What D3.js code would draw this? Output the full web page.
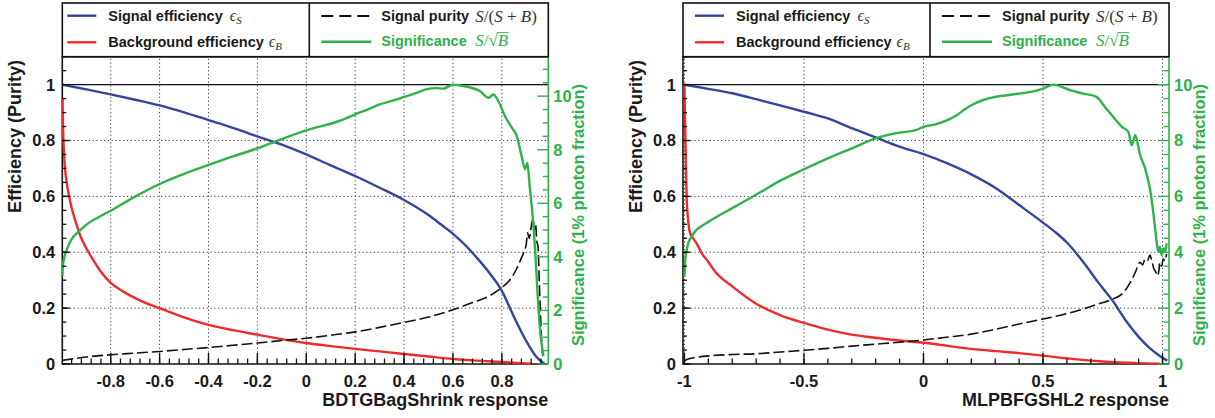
<!DOCTYPE html>
<html>
<head>
<meta charset="utf-8">
<script src="https://cdn.jsdelivr.net/npm/d3@7"></script>
<style>
  html, body { margin: 0; padding: 0; background: #fff; }
  svg { display: block; }
  text { font-family: "Liberation Sans", Arial, Helvetica, sans-serif; }
  .math { font-family: "Liberation Serif", "DejaVu Serif", serif; font-style: italic; font-weight: normal; }
</style>
</head>
<body>
<svg id="chart" width="1215" height="418"></svg>
<script>
// ---------- BDTGBagShrink: efficiencies vs. cut value ----------
const bdtEffSigX = [-0.998, -0.9, -0.8, -0.7, -0.6, -0.5, -0.4, -0.3, -0.2, -0.1, 0, 0.1, 0.2, 0.3, 0.4, 0.5, 0.55, 0.6, 0.65, 0.7, 0.75, 0.8, 0.85, 0.9, 0.94, 0.975];
const bdtEffSigY = [1.0, 0.983, 0.965, 0.946, 0.926, 0.901, 0.873, 0.845, 0.815, 0.785, 0.75, 0.711, 0.673, 0.631, 0.587, 0.533, 0.50, 0.466, 0.426, 0.378, 0.325, 0.262, 0.168, 0.082, 0.027, 0.0];

const bdtEffBkgX = [-0.997, -0.995, -0.99, -0.98, -0.97, -0.96, -0.94, -0.92, -0.9, -0.87, -0.84, -0.8, -0.75, -0.7, -0.65, -0.6, -0.5, -0.4, -0.3, -0.2, -0.1, 0, 0.1, 0.2, 0.3, 0.4, 0.5, 0.6, 0.7, 0.8, 0.86, 0.918];
const bdtEffBkgY = [0.95, 0.85, 0.74, 0.65, 0.6, 0.56, 0.5, 0.45, 0.415, 0.37, 0.33, 0.29, 0.26, 0.236, 0.216, 0.20, 0.167, 0.14, 0.121, 0.105, 0.089, 0.075, 0.064, 0.054, 0.045, 0.036, 0.027, 0.018, 0.012, 0.007, 0.004, 0.001];

const bdtPurityX = [-0.998, -0.9, -0.8, -0.7, -0.6, -0.5, -0.4, -0.3, -0.2, -0.1, 0, 0.1, 0.2, 0.3, 0.4, 0.5, 0.6, 0.68, 0.75, 0.8, 0.83, 0.86, 0.88, 0.9, 0.905, 0.912, 0.92, 0.928, 0.933, 0.938, 0.943, 0.948, 0.953, 0.958, 0.963, 0.968];
const bdtPurityY = [0.013, 0.025, 0.033, 0.039, 0.045, 0.052, 0.059, 0.067, 0.075, 0.084, 0.092, 0.103, 0.115, 0.131, 0.149, 0.168, 0.194, 0.22, 0.244, 0.274, 0.298, 0.34, 0.38, 0.43, 0.47, 0.45, 0.49, 0.52, 0.48, 0.50, 0.44, 0.42, 0.30, 0.18, 0.08, 0.02];

const bdtSignifX = [-0.998, -0.995, -0.989, -0.98, -0.962, -0.93, -0.9, -0.85, -0.8, -0.7, -0.6, -0.5, -0.4, -0.3, -0.2, -0.1, 0, 0.05, 0.1, 0.15, 0.2, 0.25, 0.3, 0.35, 0.4, 0.45, 0.49, 0.53, 0.56, 0.6, 0.63, 0.66, 0.71, 0.746, 0.765, 0.786, 0.813, 0.841, 0.861, 0.881, 0.895, 0.904, 0.915, 0.926, 0.936, 0.945, 0.956, 0.965, 0.97];
const bdtSignifY = [3.27, 3.7, 4.01, 4.26, 4.63, 4.95, 5.2, 5.48, 5.72, 6.25, 6.72, 7.1, 7.43, 7.75, 8.05, 8.4, 8.72, 8.85, 8.97, 9.12, 9.32, 9.5, 9.69, 9.82, 9.97, 10.12, 10.25, 10.3, 10.28, 10.43, 10.40, 10.35, 10.19, 9.94, 10.06, 9.81, 9.25, 8.82, 8.51, 7.76, 7.27, 7.51, 6.52, 5.53, 4.29, 2.80, 1.30, 0.6, 0.31];

// ---------- MLPBFGSHL2: efficiencies vs. cut value ----------
const mlpEffSigX = [-1.0, -0.9, -0.8, -0.7, -0.6, -0.5, -0.4, -0.3, -0.2, -0.1, 0, 0.1, 0.2, 0.3, 0.4, 0.5, 0.55, 0.6, 0.67, 0.73, 0.79, 0.85, 0.9, 0.95, 0.99, 1.02];
const mlpEffSigY = [1.0, 0.985, 0.969, 0.948, 0.926, 0.903, 0.879, 0.844, 0.811, 0.778, 0.751, 0.718, 0.679, 0.631, 0.569, 0.506, 0.473, 0.435, 0.363, 0.293, 0.228, 0.151, 0.097, 0.054, 0.028, 0.012];

const mlpEffBkgX = [-1.0, -0.998, -0.995, -0.991, -0.985, -0.978, -0.965, -0.95, -0.928, -0.9, -0.872, -0.8, -0.7, -0.6, -0.5, -0.4, -0.3, -0.2, -0.1, 0, 0.1, 0.2, 0.3, 0.4, 0.5, 0.6, 0.75, 0.9, 0.99];
const mlpEffBkgY = [1.0, 0.9, 0.77, 0.6, 0.52, 0.474, 0.452, 0.433, 0.397, 0.365, 0.331, 0.278, 0.216, 0.175, 0.147, 0.123, 0.105, 0.094, 0.084, 0.076, 0.065, 0.054, 0.046, 0.039, 0.03, 0.02, 0.009, 0.003, 0.001];

const mlpPurityX = [-1.0, -0.99, -0.95, -0.885, -0.8, -0.69, -0.6, -0.5, -0.4, -0.3, -0.2, -0.1, 0, 0.1, 0.2, 0.3, 0.4, 0.5, 0.6, 0.67, 0.73, 0.79, 0.837, 0.865, 0.886, 0.906, 0.917, 0.927, 0.937, 0.947, 0.955, 0.964, 0.972, 0.978, 0.984, 0.989, 0.996, 1.003, 1.01, 1.017];
const mlpPurityY = [0.01, 0.016, 0.024, 0.03, 0.034, 0.037, 0.043, 0.049, 0.056, 0.064, 0.071, 0.078, 0.086, 0.096, 0.107, 0.124, 0.143, 0.161, 0.18, 0.197, 0.215, 0.232, 0.256, 0.292, 0.328, 0.364, 0.355, 0.376, 0.37, 0.39, 0.37, 0.34, 0.33, 0.316, 0.33, 0.364, 0.35, 0.376, 0.37, 0.394];

const mlpSignifX = [-1.0, -0.998, -0.995, -0.99, -0.984, -0.97, -0.956, -0.92, -0.886, -0.8, -0.69, -0.593, -0.5, -0.4, -0.3, -0.2, -0.1, -0.035, 0, 0.05, 0.097, 0.139, 0.17, 0.2, 0.25, 0.3, 0.35, 0.4, 0.45, 0.5, 0.544, 0.557, 0.613, 0.669, 0.724, 0.759, 0.794, 0.83, 0.857, 0.871, 0.886, 0.906, 0.927, 0.947, 0.961, 0.972, 0.982, 0.989, 0.996, 1.003, 1.01, 1.017];
const mlpSignifY = [3.14, 3.5, 3.85, 4.1, 4.33, 4.55, 4.74, 4.98, 5.16, 5.58, 6.11, 6.59, 6.97, 7.36, 7.72, 8.08, 8.28, 8.36, 8.49, 8.58, 8.72, 8.9, 9.1, 9.26, 9.45, 9.56, 9.62, 9.68, 9.74, 9.86, 10.0, 9.98, 9.8, 9.68, 9.56, 9.2, 8.84, 8.49, 8.31, 7.83, 8.19, 7.48, 7.0, 6.29, 5.45, 4.62, 4.02, 4.2, 3.9, 4.14, 4.02, 4.32];

// ---------- axis tick labels ----------
const bdtXTicks = [-0.8, -0.6, -0.4, -0.2, 0, 0.2, 0.4, 0.6, 0.8];
const mlpXTicks = [-1, -0.5, 0, 0.5, 1];
const effTicks = [0, 0.2, 0.4, 0.6, 0.8, 1];
const signifTicks = [0, 2, 4, 6, 8, 10];

// ---------- styling ----------
const colSig = "#33459d";
const colBkg = "#ee2b2b";
const colPur = "#111111";
const colSignif = "#2fb14b";
const frameTop = 56.7, frameBottom = 364;

const panels = [
  {
    left: 62.3, right: 548.3, xDomain: [-0.998, 0.990],
    xTicks: bdtXTicks, xMinorStep: 0.04, xTitle: "BDTGBagShrink response",
    legendShift: 0,
    sig: [bdtEffSigX, bdtEffSigY], bkg: [bdtEffBkgX, bdtEffBkgY],
    pur: [bdtPurityX, bdtPurityY], signif: [bdtSignifX, bdtSignifY]
  },
  {
    left: 683, right: 1169, xDomain: [-1.006, 1.027],
    xTicks: mlpXTicks, xMinorStep: 0.1, xTitle: "MLPBFGSHL2 response",
    legendShift: 7,
    sig: [mlpEffSigX, mlpEffSigY], bkg: [mlpEffBkgX, mlpEffBkgY],
    pur: [mlpPurityX, mlpPurityY], signif: [mlpSignifX, mlpSignifY]
  }
];

const svg = d3.select("#chart");

function stepRange(lo, hi, step) {
  const out = [];
  const s = Math.ceil(lo / step - 1e-9), e = Math.floor(hi / step + 1e-9);
  for (let i = s; i <= e; i++) out.push(+(i * step).toFixed(6));
  return out;
}

function fmt(v) { return String(+v.toFixed(2)); }

panels.forEach(p => {
  const g = svg.append("g");
  const x = d3.scaleLinear().domain(p.xDomain).range([p.left, p.right]);
  const y = d3.scaleLinear().domain([0, 1.1]).range([frameBottom, frameTop]);
  const sigMax = d3.max(p.signif[1]);
  const ys = d3.scaleLinear().domain([0, 1.1 * sigMax]).range([frameBottom, frameTop]);

  // dotted grid
  const grid = g.append("g").attr("stroke", "#3a3a3a").attr("stroke-width", 1).attr("stroke-dasharray", "1.2,2.6");
  grid.selectAll("line.v").data(p.xTicks).join("line")
    .attr("x1", d => x(d)).attr("x2", d => x(d))
    .attr("y1", frameBottom).attr("y2", frameTop);
  grid.selectAll("line.h").data(effTicks.filter(d => d > 0)).join("line")
    .attr("x1", p.left).attr("x2", p.right)
    .attr("y1", d => y(d)).attr("y2", d => y(d));

  // unit-efficiency reference line
  g.append("line").attr("x1", p.left).attr("x2", p.right)
    .attr("y1", y(1)).attr("y2", y(1)).attr("stroke", "#111").attr("stroke-width", 1.3);

  // frame (left, top, bottom black; right axis green)
  g.append("path")
    .attr("d", `M${p.right},${frameTop}H${p.left}V${frameBottom}H${p.right}`)
    .attr("fill", "none").attr("stroke", "#111").attr("stroke-width", 1.6);
  g.append("line").attr("x1", p.right).attr("x2", p.right)
    .attr("y1", frameTop).attr("y2", frameBottom)
    .attr("stroke", colSignif).attr("stroke-width", 1.6);

  // curves, drawn over the frame
  const path = (xs, vs, sy) => d3.line().curve(d3.curveMonotoneX)(xs.map((v, i) => [x(v), sy(vs[i])]));
  g.append("path").attr("d", path(p.bkg[0], p.bkg[1], y))
    .attr("fill", "none").attr("stroke", colBkg).attr("stroke-width", 2.4).attr("stroke-linejoin", "round");
  g.append("path").attr("d", path(p.sig[0], p.sig[1], y))
    .attr("fill", "none").attr("stroke", colSig).attr("stroke-width", 2.4).attr("stroke-linejoin", "round");
  g.append("path").attr("d", path(p.pur[0], p.pur[1], y))
    .attr("fill", "none").attr("stroke", colPur).attr("stroke-width", 1.6).attr("stroke-dasharray", "11,4");
  g.append("path").attr("d", path(p.signif[0], p.signif[1], ys))
    .attr("fill", "none").attr("stroke", colSignif).attr("stroke-width", 2.4).attr("stroke-linejoin", "round");

  // bottom axis ticks
  const xMinor = stepRange(p.xDomain[0], p.xDomain[1], p.xMinorStep);
  g.selectAll("line.xmin").data(xMinor).join("line")
    .attr("x1", d => x(d)).attr("x2", d => x(d))
    .attr("y1", frameBottom).attr("y2", frameBottom - 5.5)
    .attr("stroke", "#111").attr("stroke-width", 1.3);
  g.selectAll("line.xmaj").data(p.xTicks).join("line")
    .attr("x1", d => x(d)).attr("x2", d => x(d))
    .attr("y1", frameBottom).attr("y2", frameBottom - 11)
    .attr("stroke", "#111").attr("stroke-width", 1.4);
  g.selectAll("text.xl").data(p.xTicks).join("text")
    .attr("x", d => x(d)).attr("y", 387)
    .attr("text-anchor", "middle").attr("font-size", 16.5).attr("font-weight", "bold").attr("fill", "#1a1a1a")
    .text(fmt);
  g.append("text").attr("x", p.right).attr("y", 406)
    .attr("text-anchor", "end").attr("font-size", 18).attr("font-weight", "bold").attr("fill", "#1a1a1a")
    .text(p.xTitle);

  // left axis ticks
  const yMinor = stepRange(0, 1.1, 0.05);
  g.selectAll("line.ymin").data(yMinor).join("line")
    .attr("x1", p.left).attr("x2", p.left + 4)
    .attr("y1", d => y(d)).attr("y2", d => y(d))
    .attr("stroke", "#111").attr("stroke-width", 1.3);
  g.selectAll("line.ymaj").data(effTicks).join("line")
    .attr("x1", p.left).attr("x2", p.left + 7.5)
    .attr("y1", d => y(d)).attr("y2", d => y(d))
    .attr("stroke", "#111").attr("stroke-width", 1.4);
  g.selectAll("text.yl").data(effTicks).join("text")
    .attr("x", p.left - 7).attr("y", d => y(d)).attr("dy", "0.36em")
    .attr("text-anchor", "end").attr("font-size", 16.5).attr("font-weight", "bold").attr("fill", "#1a1a1a")
    .text(fmt);
  g.append("text")
    .attr("transform", `translate(${p.left - 41},60) rotate(-90)`)
    .attr("text-anchor", "end").attr("font-size", 18).attr("font-weight", "bold").attr("fill", "#1a1a1a")
    .text("Efficiency (Purity)");

  // right (significance) axis
  const sMinor = stepRange(0, 1.1 * sigMax, 0.5);
  g.selectAll("line.smin").data(sMinor).join("line")
    .attr("x1", p.right).attr("x2", d => p.right - (Math.abs(d % 2) < 1e-6 ? 11 : 5.5))
    .attr("y1", d => ys(d)).attr("y2", d => ys(d))
    .attr("stroke", colSignif).attr("stroke-width", 1.4);
  g.selectAll("text.sl").data(signifTicks).join("text")
    .attr("x", p.right + 5).attr("y", d => ys(d)).attr("dy", "0.36em")
    .attr("text-anchor", "start").attr("font-size", 16.5).attr("font-weight", "bold").attr("fill", colSignif)
    .text(fmt);
  g.append("text")
    .attr("transform", `translate(${p.right + 36},215) rotate(-90)`)
    .attr("text-anchor", "middle").attr("font-size", 16.5).attr("font-weight", "bold").attr("fill", colSignif)
    .text("Significance (1% photon fraction)");

  // legend
  const L = p.left, R = p.right, top = 3, bot = frameTop;
  const lg = g.append("g");
  lg.append("rect").attr("x", L).attr("y", top).attr("width", R - L).attr("height", bot - top)
    .attr("fill", "#fff").attr("stroke", "#111").attr("stroke-width", 1.6);
  lg.append("line").attr("x1", L + 247).attr("x2", L + 247).attr("y1", top).attr("y2", bot)
    .attr("stroke", "#111").attr("stroke-width", 1.6);

  const s = p.legendShift;
  // left column
  lg.append("line").attr("x1", L + 5 + s).attr("x2", L + 34 + s).attr("y1", 15.7).attr("y2", 15.7)
    .attr("stroke", colSig).attr("stroke-width", 2.4);
  lg.append("line").attr("x1", L + 5 + s).attr("x2", L + 34 + s).attr("y1", 42.3).attr("y2", 42.3)
    .attr("stroke", colBkg).attr("stroke-width", 2.4);
  const t1 = lg.append("text").attr("x", L + 46 + s).attr("y", 20.5)
    .attr("font-size", 14.5).attr("font-weight", "bold").attr("fill", "#1a1a1a");
  t1.append("tspan").text("Signal efficiency ");
  t1.append("tspan").attr("class", "math").attr("font-size", 16).attr("fill", "#333").attr("dx", 3).text("ϵ");
  t1.append("tspan").attr("class", "math").attr("font-size", 11).attr("fill", "#333").attr("dy", 3).text("S");
  const t2 = lg.append("text").attr("x", L + 46 + s).attr("y", 47)
    .attr("font-size", 14.5).attr("font-weight", "bold").attr("fill", "#1a1a1a");
  t2.append("tspan").text("Background efficiency ");
  t2.append("tspan").attr("class", "math").attr("font-size", 16).attr("fill", "#333").attr("dx", 1).text("ϵ");
  t2.append("tspan").attr("class", "math").attr("font-size", 11).attr("fill", "#333").attr("dy", 3).text("B");

  // right column
  lg.append("line").attr("x1", L + 259).attr("x2", L + 307).attr("y1", 16).attr("y2", 16)
    .attr("stroke", colPur).attr("stroke-width", 1.8).attr("stroke-dasharray", "12,6");
  lg.append("line").attr("x1", L + 259).attr("x2", L + 309).attr("y1", 41.7).attr("y2", 41.7)
    .attr("stroke", colSignif).attr("stroke-width", 2.4);
  lg.append("text").attr("x", L + 319).attr("y", 21)
    .attr("font-size", 14.5).attr("font-weight", "bold").attr("fill", "#1a1a1a").text("Signal purity");
  const m1 = lg.append("text").attr("x", L + 413).attr("y", 21.5).attr("font-size", 17).attr("fill", "#333")
    .attr("class", "math");
  m1.append("tspan").text("S");
  m1.append("tspan").attr("font-style", "normal").text("/(");
  m1.append("tspan").text("S");
  m1.append("tspan").attr("font-style", "normal").text(" + ");
  m1.append("tspan").text("B");
  m1.append("tspan").attr("font-style", "normal").text(")");

  lg.append("text").attr("x", L + 319).attr("y", 45.5)
    .attr("font-size", 14.5).attr("font-weight", "bold").attr("fill", colSignif).text("Significance");
  const m2 = lg.append("text").attr("x", L + 413).attr("y", 46).attr("font-size", 17).attr("fill", colSignif)
    .attr("class", "math");
  m2.append("tspan").text("S");
  m2.append("tspan").attr("font-style", "normal").text("/√");
  m2.append("tspan").text("B");
  // overline for the square root
  const node = m2.node();
  const n = node.getNumberOfChars();
  const rootBox = node.getExtentOfChar(n - 2);
  const bBox = node.getExtentOfChar(n - 1);
  lg.append("line")
    .attr("x1", rootBox.x + rootBox.width - 1).attr("x2", bBox.x + bBox.width + 0.5)
    .attr("y1", rootBox.y + 1.6).attr("y2", rootBox.y + 1.6)
    .attr("stroke", colSignif).attr("stroke-width", 0.9);
});
</script>
</body>
</html>
